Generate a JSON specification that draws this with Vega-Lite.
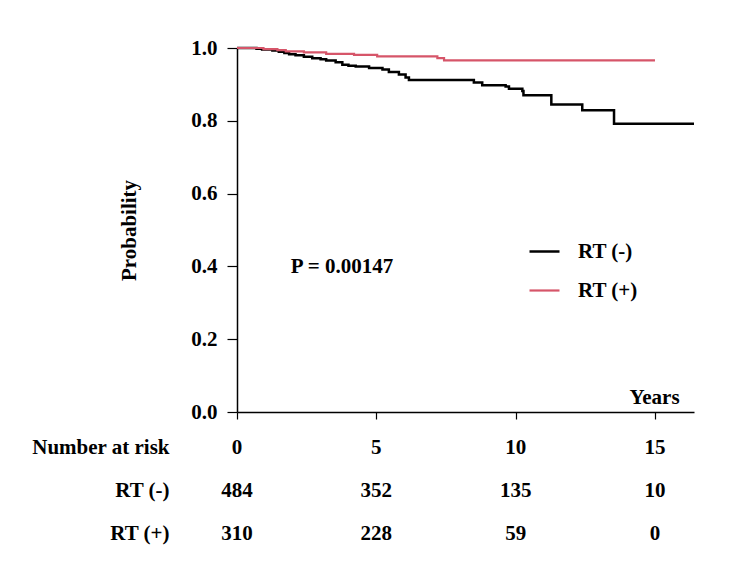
{
  "$schema": "https://vega.github.io/schema/vega-lite/v6.json",
  "background": "white",
  "padding": {"left": 31, "top": 37, "right": 10, "bottom": 10},
  "config": {
    "font": "Liberation Serif",
    "view": {"stroke": null},
    "axis": {"labelFont": "Liberation Serif", "titleFont": "Liberation Serif", "labelFontWeight": "bold", "titleFontWeight": "bold", "labelFontSize": 21, "titleFontSize": 21, "labelColor": "black", "titleColor": "black", "domainColor": "black", "tickColor": "black", "grid": false}
  },
  "spacing": 4,
  "vconcat": [
    {
      "width": 457,
      "height": 364,
      "layer": [
        {
          "data": {"values": [
            {"group": "RT (-)", "time": 0, "p": 1.0},
            {"group": "RT (-)", "time": 0.7, "p": 0.998},
            {"group": "RT (-)", "time": 0.9, "p": 0.996},
            {"group": "RT (-)", "time": 1.27, "p": 0.993},
            {"group": "RT (-)", "time": 1.5, "p": 0.99},
            {"group": "RT (-)", "time": 1.7, "p": 0.986},
            {"group": "RT (-)", "time": 1.87, "p": 0.983},
            {"group": "RT (-)", "time": 2.1, "p": 0.98},
            {"group": "RT (-)", "time": 2.4, "p": 0.976},
            {"group": "RT (-)", "time": 2.7, "p": 0.972},
            {"group": "RT (-)", "time": 3.0, "p": 0.969},
            {"group": "RT (-)", "time": 3.2, "p": 0.966},
            {"group": "RT (-)", "time": 3.54, "p": 0.961},
            {"group": "RT (-)", "time": 3.78, "p": 0.954},
            {"group": "RT (-)", "time": 4.0, "p": 0.951},
            {"group": "RT (-)", "time": 4.26, "p": 0.949},
            {"group": "RT (-)", "time": 4.74, "p": 0.945},
            {"group": "RT (-)", "time": 5.22, "p": 0.941},
            {"group": "RT (-)", "time": 5.45, "p": 0.934},
            {"group": "RT (-)", "time": 5.81, "p": 0.927},
            {"group": "RT (-)", "time": 6.05, "p": 0.919},
            {"group": "RT (-)", "time": 6.17, "p": 0.912},
            {"group": "RT (-)", "time": 8.5, "p": 0.905},
            {"group": "RT (-)", "time": 8.8, "p": 0.898},
            {"group": "RT (-)", "time": 9.64, "p": 0.894},
            {"group": "RT (-)", "time": 9.76, "p": 0.888},
            {"group": "RT (-)", "time": 10.24, "p": 0.882},
            {"group": "RT (-)", "time": 10.28, "p": 0.87},
            {"group": "RT (-)", "time": 11.28, "p": 0.845},
            {"group": "RT (-)", "time": 12.39, "p": 0.829},
            {"group": "RT (-)", "time": 13.53, "p": 0.792},
            {"group": "RT (-)", "time": 16.4, "p": 0.792},
            {"group": "RT (+)", "time": 0, "p": 1.0},
            {"group": "RT (+)", "time": 0.95, "p": 0.997},
            {"group": "RT (+)", "time": 1.45, "p": 0.994},
            {"group": "RT (+)", "time": 1.75, "p": 0.991},
            {"group": "RT (+)", "time": 2.4, "p": 0.988},
            {"group": "RT (+)", "time": 3.2, "p": 0.984},
            {"group": "RT (+)", "time": 4.2, "p": 0.981},
            {"group": "RT (+)", "time": 5.03, "p": 0.977},
            {"group": "RT (+)", "time": 7.19, "p": 0.972},
            {"group": "RT (+)", "time": 7.43, "p": 0.966},
            {"group": "RT (+)", "time": 15.0, "p": 0.966}
          ]},
          "mark": {"type": "line", "interpolate": "step-after"},
          "encoding": {
            "x": {"field": "time", "type": "quantitative", "scale": {"domain": [0, 16.4], "nice": false},
              "axis": {"values": [0, 5, 10, 15], "labels": false, "tickSize": 7, "domainWidth": 1.5, "tickWidth": 1.2, "title": "Years", "titleX": 417, "titleY": -9, "titleAlign": "center", "titleBaseline": "alphabetic"}},
            "y": {"field": "p", "type": "quantitative", "scale": {"domain": [0, 1], "nice": false},
              "axis": {"values": [0, 0.2, 0.4, 0.6, 0.8, 1.0], "format": ".1f", "tickSize": 10, "labelPadding": 10, "domainWidth": 1.5, "tickWidth": 1.2, "title": "Probability", "titlePadding": 51}},
            "color": {"field": "group", "type": "nominal", "scale": {"domain": ["RT (-)", "RT (+)"], "range": ["black", "#d65569"]},
              "legend": {"orient": "none", "legendX": 291, "legendY": 187, "title": null, "symbolType": "stroke", "symbolSize": 900, "symbolStrokeWidth": 2.5, "labelFontSize": 21, "labelFont": "Liberation Serif", "labelFontWeight": "bold", "labelColor": "black", "labelOffset": 17, "rowPadding": 12}},
            "strokeWidth": {"field": "group", "type": "nominal", "scale": {"domain": ["RT (-)", "RT (+)"], "range": [2.5, 2.2]}, "legend": null}
          }
        },
        {
          "data": {"values": [{"label": "P = 0.00147"}]},
          "mark": {"type": "text", "fontSize": 21, "fontWeight": "bold", "font": "Liberation Serif", "color": "black"},
          "encoding": {
            "x": {"datum": 3.77, "type": "quantitative"},
            "y": {"datum": 0.397, "type": "quantitative"},
            "text": {"field": "label"}
          }
        }
      ]
    },
    {
      "width": 457,
      "height": 129,
      "data": {"values": [
        {"row": "Number at risk", "time": 0, "value": "0"},
        {"row": "Number at risk", "time": 5, "value": "5"},
        {"row": "Number at risk", "time": 10, "value": "10"},
        {"row": "Number at risk", "time": 15, "value": "15"},
        {"row": "RT (-)", "time": 0, "value": "484"},
        {"row": "RT (-)", "time": 5, "value": "352"},
        {"row": "RT (-)", "time": 10, "value": "135"},
        {"row": "RT (-)", "time": 15, "value": "10"},
        {"row": "RT (+)", "time": 0, "value": "310"},
        {"row": "RT (+)", "time": 5, "value": "228"},
        {"row": "RT (+)", "time": 10, "value": "59"},
        {"row": "RT (+)", "time": 15, "value": "0"}
      ]},
      "mark": {"type": "text", "fontSize": 21, "fontWeight": "bold", "font": "Liberation Serif", "color": "black"},
      "encoding": {
        "x": {"field": "time", "type": "quantitative", "scale": {"domain": [0, 16.4], "nice": false}, "axis": null},
        "y": {"field": "row", "type": "nominal", "sort": ["Number at risk", "RT (-)", "RT (+)"], "scale": {"paddingInner": 0, "paddingOuter": 0},
          "axis": {"title": null, "domain": false, "ticks": false, "tickSize": 0, "labelPadding": 68}},
        "text": {"field": "value"}
      }
    }
  ]
}
